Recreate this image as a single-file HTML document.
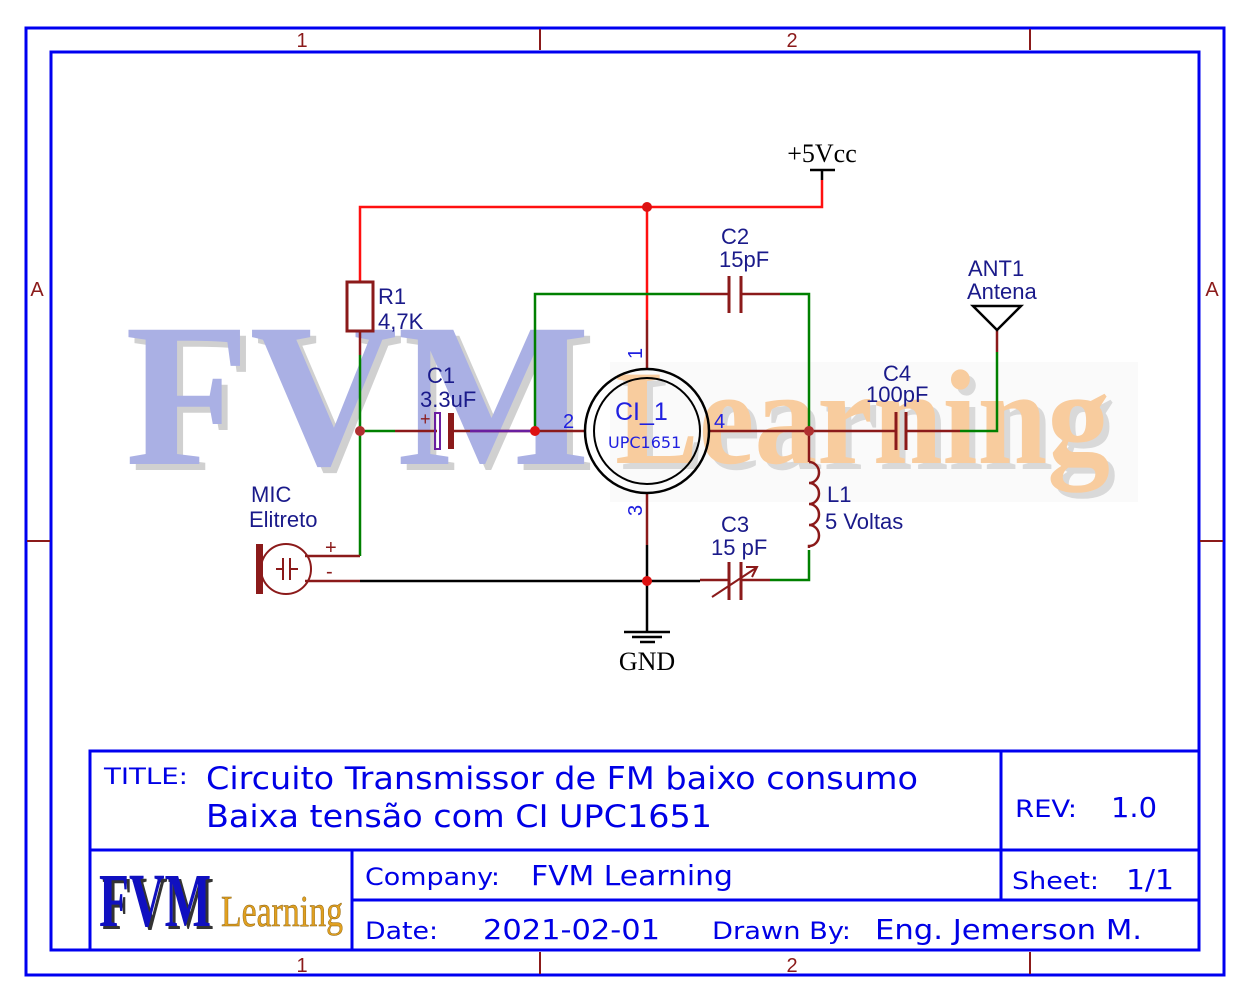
<!DOCTYPE html>
<html><head><meta charset="utf-8"><style>
html,body{margin:0;padding:0;background:#fff;}
svg{display:block;}
.lb{font-family:"Liberation Sans",sans-serif;font-size:22px;fill:#1a1a8a;}
.tb{font-family:"DejaVu Sans Condensed","DejaVu Sans",sans-serif;fill:#0000e6;}
</style></head><body>
<svg width="1250" height="1003" viewBox="0 0 1250 1003" xmlns="http://www.w3.org/2000/svg">
<rect width="1250" height="1003" fill="#fff"/>
<!-- watermark -->
<rect x="610" y="362" width="528" height="140" fill="#fafafa"/>
<g font-family="Liberation Serif,serif" font-weight="bold">
<text x="131" y="470" font-size="205" fill="#999" opacity="0.45" textLength="465" lengthAdjust="spacingAndGlyphs">FVM</text>
<text x="125" y="464" font-size="205" fill="#aab0e4" textLength="465" lengthAdjust="spacingAndGlyphs">FVM</text>
<text x="621" y="469" font-size="135" fill="#aaa" opacity="0.4" textLength="495" lengthAdjust="spacingAndGlyphs">Learning</text>
<text x="615" y="463" font-size="135" fill="#f8cc9e" textLength="495" lengthAdjust="spacingAndGlyphs">Learning</text>
</g>
<!-- borders -->
<rect x="26" y="28" width="1198" height="947" fill="none" stroke="#0000f0" stroke-width="3"/>
<rect x="51" y="52" width="1148" height="898" fill="none" stroke="#0000f0" stroke-width="3"/>
<g stroke="#8b1a1a" stroke-width="2">
<line x1="540" y1="29" x2="540" y2="50"/><line x1="1030" y1="29" x2="1030" y2="50"/>
<line x1="540" y1="952" x2="540" y2="974"/><line x1="1030" y1="952" x2="1030" y2="974"/>
<line x1="27" y1="541" x2="50" y2="541"/><line x1="1200" y1="541" x2="1223" y2="541"/>
</g>
<g font-family="Liberation Sans,sans-serif" font-size="20" fill="#8b1a1a" text-anchor="middle">
<text x="302" y="47">1</text><text x="792" y="47">2</text>
<text x="302" y="972">1</text><text x="792" y="972">2</text>
<text x="37" y="296">A</text><text x="1212" y="296">A</text>
</g>
<!-- wires -->
<g fill="none" stroke-width="2.5">
<polyline points="360,282 360,207 822,207 822,180" stroke="#ff1010"/>
<line x1="822" y1="180" x2="822" y2="170" stroke="#000"/>
<line x1="810" y1="170" x2="835" y2="170" stroke="#000"/>
<line x1="647" y1="207" x2="647" y2="320" stroke="#ff1010"/>
<line x1="647" y1="320" x2="647" y2="369" stroke="#8b1a1a"/>
<line x1="360" y1="331" x2="360" y2="355" stroke="#8b1a1a"/>
<polyline points="360,355 360,556" stroke="#008000"/>
<polyline points="360,556 305,556" stroke="#8b1a1a"/>
<line x1="360" y1="431" x2="395" y2="431" stroke="#008000"/>
<line x1="395" y1="431" x2="437" y2="431" stroke="#8b1a1a"/>
<line x1="450" y1="431" x2="585" y2="431" stroke="#8b1a1a"/>
<line x1="470" y1="431" x2="535" y2="431" stroke="#6a1fa0"/>
<polyline points="535,431 535,294 700,294" stroke="#008000"/>
<line x1="700" y1="294" x2="729" y2="294" stroke="#8b1a1a"/>
<line x1="741" y1="294" x2="780" y2="294" stroke="#8b1a1a"/>
<polyline points="780,294 809,294 809,431" stroke="#008000"/>
<line x1="709" y1="431" x2="896" y2="431" stroke="#8b1a1a"/>
<line x1="906" y1="431" x2="960" y2="431" stroke="#8b1a1a"/>
<polyline points="960,431 997,431 997,352" stroke="#008000"/>
<line x1="997" y1="352" x2="997" y2="330" stroke="#8b1a1a"/>
<line x1="809" y1="431" x2="809" y2="462" stroke="#8b1a1a"/>
<path d="M809,462 a10,10.5 0 0 1 0,21 a10,10.5 0 0 1 0,21 a10,10.5 0 0 1 0,21 a10,10.5 0 0 1 0,21 l0,2" stroke="#8b1a1a"/>
<polyline points="809,550 809,580 770,580" stroke="#008000"/>
<line x1="770" y1="580" x2="741" y2="580" stroke="#8b1a1a"/>
<line x1="729" y1="580" x2="700" y2="580" stroke="#8b1a1a"/>
<line x1="360" y1="581" x2="700" y2="581" stroke="#000"/>
<line x1="305" y1="581" x2="360" y2="581" stroke="#8b1a1a"/>
<line x1="647" y1="493" x2="647" y2="545" stroke="#8b1a1a"/>
<line x1="647" y1="545" x2="647" y2="632" stroke="#000"/>
<line x1="624" y1="632" x2="670" y2="632" stroke="#000"/>
<line x1="632" y1="637" x2="662" y2="637" stroke="#000"/>
<line x1="640" y1="642" x2="655" y2="642" stroke="#000"/>
</g>
<!-- components -->
<rect x="347" y="282" width="26" height="49" fill="none" stroke="#8b1a1a" stroke-width="3"/>
<rect x="435" y="413" width="5" height="36" fill="none" stroke="#6a1fa0" stroke-width="2"/>
<rect x="448" y="413" width="6" height="36" fill="#8b1a1a"/>
<text x="420" y="425" font-family="Liberation Sans,sans-serif" font-size="18" fill="#8b1a1a">+</text>
<g stroke="#8b1a1a" stroke-width="3">
<line x1="729" y1="276" x2="729" y2="313"/><line x1="741" y1="276" x2="741" y2="313"/>
<line x1="896" y1="412" x2="896" y2="450"/><line x1="906" y1="412" x2="906" y2="450"/>
<line x1="729" y1="562" x2="729" y2="600"/><line x1="741" y1="562" x2="741" y2="600"/>
</g>
<line x1="712" y1="597" x2="756" y2="568" stroke="#8b1a1a" stroke-width="2"/>
<polyline points="746,567 757,567 752,577" fill="none" stroke="#8b1a1a" stroke-width="2"/>
<polygon points="973,306 1021,306 997,330" fill="#fff" stroke="#000" stroke-width="2.5"/>
<!-- mic -->
<rect x="256" y="544" width="7" height="50" fill="#8b1a1a"/>
<circle cx="286" cy="569" r="25" fill="none" stroke="#8b1a1a" stroke-width="2"/>
<g stroke="#8b1a1a" stroke-width="2"><line x1="283" y1="558" x2="283" y2="580"/><line x1="290" y1="558" x2="290" y2="580"/><line x1="276" y1="569" x2="283" y2="569"/><line x1="290" y1="569" x2="298" y2="569"/></g>
<text x="325" y="554" font-family="Liberation Sans,sans-serif" font-size="20" fill="#8b1a1a">+</text>
<text x="326" y="578" font-family="Liberation Sans,sans-serif" font-size="20" fill="#8b1a1a">-</text>
<!-- IC -->
<circle cx="647" cy="431" r="62" fill="none" stroke="#000" stroke-width="2.5"/>
<circle cx="647" cy="431" r="53" fill="none" stroke="#000" stroke-width="2"/>
<!-- dots -->
<g fill="#dd1111"><circle cx="647" cy="207" r="5"/><circle cx="535" cy="431" r="5"/><circle cx="647" cy="581" r="5"/></g>
<g fill="#b03030"><circle cx="360" cy="431" r="5"/><circle cx="809" cy="431" r="5"/></g>
<!-- labels -->
<text x="822" y="162" font-family="Liberation Serif,serif" font-size="26" fill="#000" text-anchor="middle">+5Vcc</text>
<text x="647" y="670" font-family="Liberation Serif,serif" font-size="26" fill="#000" text-anchor="middle">GND</text>
<text class="lb" x="378" y="304">R1</text><text class="lb" x="378" y="329">4,7K</text>
<text class="lb" x="427" y="383">C1</text><text class="lb" x="420" y="407">3.3uF</text>
<text class="lb" x="721" y="244">C2</text><text class="lb" x="719" y="267">15pF</text>
<text class="lb" x="968" y="276">ANT1</text><text class="lb" x="967" y="299">Antena</text>
<text class="lb" x="883" y="381">C4</text><text class="lb" x="866" y="402">100pF</text>
<text class="lb" x="827" y="502">L1</text><text class="lb" x="825" y="529">5 Voltas</text>
<text class="lb" x="721" y="532">C3</text><text class="lb" x="711" y="555">15 pF</text>
<text class="lb" x="251" y="502">MIC</text><text class="lb" x="249" y="527">Elitreto</text>
<g font-family="Liberation Sans,sans-serif" fill="#2020e0">
<text x="615" y="420" font-size="25">CI_1</text>
<text x="608" y="448" font-size="16" font-family="DejaVu Sans,sans-serif">UPC1651</text>
<text x="563" y="428" font-size="20">2</text>
<text x="714" y="428" font-size="20">4</text>
<text transform="translate(642,359) rotate(-90)" font-size="20">1</text>
<text transform="translate(642,516) rotate(-90)" font-size="20">3</text>
</g>
<!-- title block -->
<g stroke="#0000f0" stroke-width="3" fill="none">
<polyline points="1200,751 90,751 90,951"/>
<line x1="90" y1="850" x2="1200" y2="850"/>
<line x1="1001" y1="751" x2="1001" y2="900"/>
<line x1="352" y1="850" x2="352" y2="951"/>
<line x1="352" y1="900" x2="1200" y2="900"/>
</g>
<text class="tb" x="104" y="784" font-size="22" textLength="84" lengthAdjust="spacingAndGlyphs">TITLE:</text>
<text class="tb" x="206" y="789" font-size="31" textLength="712" lengthAdjust="spacingAndGlyphs">Circuito Transmissor de FM baixo consumo</text>
<text class="tb" x="206" y="827" font-size="31" textLength="506" lengthAdjust="spacingAndGlyphs">Baixa tensão com CI UPC1651</text>
<text class="tb" x="1015" y="817" font-size="24" textLength="62" lengthAdjust="spacingAndGlyphs">REV:</text>
<text class="tb" x="1111" y="817" font-size="28" textLength="46" lengthAdjust="spacingAndGlyphs">1.0</text>
<text class="tb" x="365" y="885" font-size="24" textLength="135" lengthAdjust="spacingAndGlyphs">Company:</text>
<text class="tb" x="531" y="885" font-size="28" textLength="202" lengthAdjust="spacingAndGlyphs">FVM Learning</text>
<text class="tb" x="1012" y="889" font-size="24" textLength="87" lengthAdjust="spacingAndGlyphs">Sheet:</text>
<text class="tb" x="1126" y="889" font-size="28" textLength="48" lengthAdjust="spacingAndGlyphs">1/1</text>
<text class="tb" x="365" y="939" font-size="24" textLength="73" lengthAdjust="spacingAndGlyphs">Date:</text>
<text class="tb" x="483" y="939" font-size="28" textLength="177" lengthAdjust="spacingAndGlyphs">2021-02-01</text>
<text class="tb" x="712" y="939" font-size="24" textLength="139" lengthAdjust="spacingAndGlyphs">Drawn By:</text>
<text class="tb" x="875" y="939" font-size="28" textLength="267" lengthAdjust="spacingAndGlyphs">Eng. Jemerson M.</text>
<!-- logo -->
<g font-family="Liberation Serif,serif" font-weight="bold">
<text x="102" y="929" font-size="76" fill="#333" textLength="112" lengthAdjust="spacingAndGlyphs">FVM</text>
<text x="99" y="926" font-size="76" fill="#1010c0" textLength="112" lengthAdjust="spacingAndGlyphs">FVM</text>
<text x="221" y="926" font-size="44" font-weight="normal" fill="#e0a020" stroke="#8a6010" stroke-width="0.5" textLength="122" lengthAdjust="spacingAndGlyphs">Learning</text>
</g>
</svg>
</body></html>
